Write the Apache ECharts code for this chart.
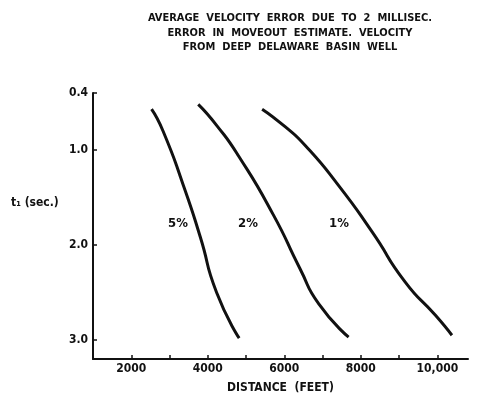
<!DOCTYPE html>
<html>
<head>
    <meta charset="utf-8">
    <title>Velocity error</title>
    <script src="https://cdn.jsdelivr.net/npm/echarts@6/dist/echarts.min.js"></script>
    <style>
        html, body { margin: 0; padding: 0; background: #fff; }
        #chart { width: 486px; height: 400px; }
    </style>
</head>
<body>
    <div id="chart"></div>
    <script>
        // distance (feet), t1 (sec)
        var curve5 = [[2530, 0.57], [2830, 0.80], [3360, 1.37], [3800, 1.91],
            [4230, 2.50], [4820, 2.98]];
        var curve2 = [[3750, 0.52], [4230, 0.74], [4800, 1.06], [5710, 1.68],
            [6410, 2.25], [6900, 2.62], [7680, 2.97]];
        var curve1 = [[5420, 0.57], [6020, 0.755], [6540, 0.95], [7410, 1.37],
            [8290, 1.86], [9160, 2.39], [9950, 2.74], [10380, 2.95]];
        var curveLabels = [[3220, 1.77, '5%'], [5050, 1.77, '2%'], [7430, 1.77, '1%']];
        var xLabels = [2000, 4000, 6000, 8000, 10000];
        var xTicks = [2000, 3000, 4000, 5000, 6000, 7000, 8000, 9000, 10000];
        var yLabels = [0.4, 1.0, 2.0, 3.0];

        var font = 'DejaVu Sans Condensed';
        var ink = '#111';

        function line(data) {
            return {
                type: 'line',
                data: data,
                smooth: 0.6,
                symbol: 'none',
                lineStyle: { color: ink, width: 3 }
            };
        }

        var chart = echarts.init(document.getElementById('chart'));
        chart.setOption({
            animation: false,
            title: [{
                text: 'AVERAGE  VELOCITY  ERROR  DUE  TO  2  MILLISEC.\nERROR  IN  MOVEOUT  ESTIMATE.  VELOCITY\nFROM  DEEP  DELAWARE  BASIN  WELL',
                left: 285,
                top: 6,
                textAlign: 'center',
                textStyle: { fontFamily: font, fontSize: 11, fontWeight: 'bold', color: ink, lineHeight: 14.5 }
            }, {
                text: 't\u2081 (sec.)',
                left: 6,
                top: 192,
                textStyle: { fontFamily: font, fontSize: 12, fontWeight: 'bold', color: ink }
            }],
            grid: { left: 93, right: 18, top: 93, bottom: 41 },
            xAxis: {
                type: 'value',
                min: 1000,
                max: 10800,
                name: 'DISTANCE  (FEET)',
                nameLocation: 'middle',
                nameGap: 23,
                nameTextStyle: { fontFamily: font, fontSize: 12, fontWeight: 'bold', color: ink },
                splitLine: { show: false },
                axisLine: { lineStyle: { color: ink, width: 2 } },
                axisTick: { inside: true, length: 4, customValues: xTicks, lineStyle: { color: ink, width: 1.5 } },
                axisLabel: {
                    customValues: xLabels,
                    margin: 4,
                    fontFamily: font, fontSize: 12, fontWeight: 'bold', color: ink,
                    formatter: function (v) { return v >= 10000 ? '10,000' : String(v); }
                }
            },
            yAxis: {
                type: 'value',
                inverse: true,
                min: 0.4,
                max: 3.2,
                splitLine: { show: false },
                axisLine: { lineStyle: { color: ink, width: 2 } },
                axisTick: { inside: true, length: 4, customValues: yLabels, lineStyle: { color: ink, width: 1.5 } },
                axisLabel: {
                    customValues: yLabels,
                    margin: 5,
                    fontFamily: font, fontSize: 12, fontWeight: 'bold', color: ink,
                    formatter: function (v) { return v.toFixed(1); }
                }
            },
            series: [
                line(curve5),
                line(curve2),
                line(curve1),
                {
                    type: 'scatter',
                    symbolSize: 0,
                    itemStyle: { opacity: 1 },
                    data: curveLabels,
                    label: {
                        show: true,
                        position: 'inside',
                        formatter: function (p) { return p.data[2]; },
                        fontFamily: font, fontSize: 13, fontWeight: 'bold', color: ink
                    }
                }
            ]
        });
    </script>
</body>
</html>
